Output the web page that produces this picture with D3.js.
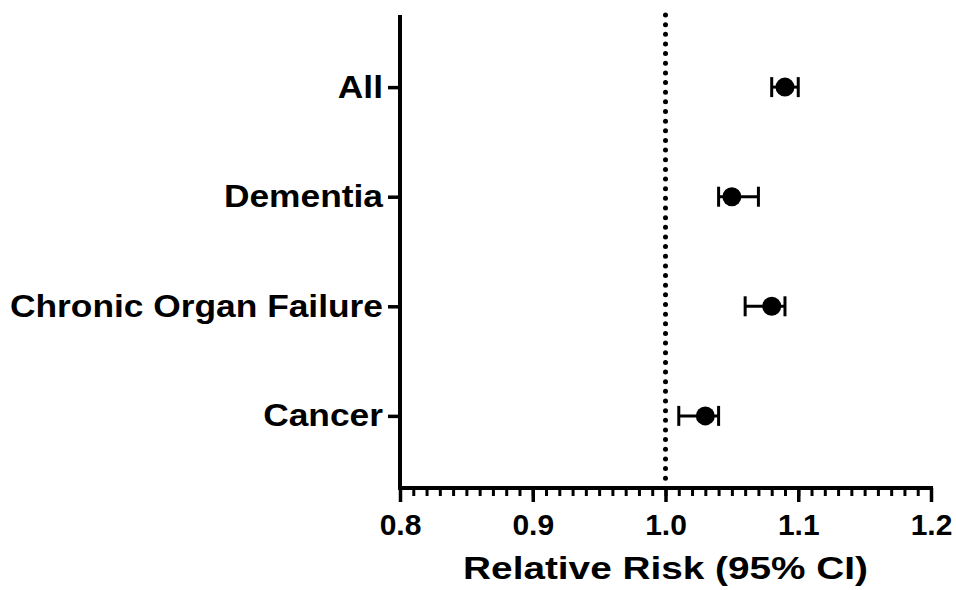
<!DOCTYPE html>
<html>
<head>
<meta charset="utf-8">
<script src="https://cdn.jsdelivr.net/npm/d3@7"></script>
<style>
  body { margin: 0; background: #fff; }
  text { font-family: "Liberation Sans", Arial, sans-serif; font-weight: bold; fill: #000; }
</style>
</head>
<body>
<div id="chart"></div>
<script>
const categories = ['All', 'Dementia', 'Chronic Organ Failure', 'Cancer'];
const estimates = [1.09, 1.05, 1.08, 1.03];
const lower = [1.08, 1.04, 1.06, 1.01];
const upper = [1.10, 1.07, 1.09, 1.04];
const majorTicks = [0.8, 0.9, 1.0, 1.1, 1.2];
const refValue = 1.0;

const width = 956, height = 590;
const plotLeft = 400, plotRight = 931, plotTop = 15, plotBottom = 488;
// the original labels are drawn a little wider than Liberation Sans
const labelStretch = 1.14, titleStretch = 1.25;

const svg = d3.select('#chart')
  .append('svg')
  .attr('width', width)
  .attr('height', height);

const x = d3.scaleLinear()
  .domain([0.8, 1.2])
  .range([plotLeft, plotRight]);

const y = d3.scalePoint()
  .domain(categories)
  .range([plotTop, plotBottom])
  .padding(0.658);

const rows = categories.map((c, i) => ({
  name: c, est: estimates[i], lo: lower[i], hi: upper[i]
}));

// reference line at 1.0
svg.append('line')
  .attr('x1', x(refValue)).attr('x2', x(refValue))
  .attr('y1', plotTop).attr('y2', plotBottom - 6)
  .attr('stroke', '#000')
  .attr('stroke-width', 5)
  .attr('stroke-linecap', 'round')
  .attr('stroke-dasharray', '0 9.65');

// x axis: minor ticks then major ticks
const xMinor = d3.axisBottom(x)
  .tickValues(d3.range(80, 121).map(d => d / 100))
  .tickSize(8)
  .tickFormat('');

svg.append('g')
  .attr('transform', `translate(0,${plotBottom})`)
  .call(xMinor)
  .call(g => g.select('.domain').remove())
  .call(g => g.selectAll('line').attr('stroke', '#000').attr('stroke-width', 3));

const xAxis = d3.axisBottom(x)
  .tickValues(majorTicks)
  .tickSize(14)
  .tickSizeOuter(0)
  .tickPadding(10)
  .tickFormat(d3.format('.1f'));

svg.append('g')
  .attr('transform', `translate(0,${plotBottom})`)
  .call(xAxis)
  .call(g => g.select('.domain').attr('stroke', '#000').attr('stroke-width', 4)
    .attr('d', `M${plotLeft - 2},0H${plotRight + 2}`))
  .call(g => g.selectAll('line').attr('stroke', '#000').attr('stroke-width', 3.5))
  .call(g => g.selectAll('text').style('font-size', '30px').attr('dy', '0.75em'));

// y axis
const yAxis = d3.axisLeft(y)
  .tickSize(12)
  .tickSizeOuter(0)
  .tickPadding(4);

svg.append('g')
  .attr('transform', `translate(${plotLeft},0)`)
  .call(yAxis)
  .call(g => g.select('.domain').attr('stroke', '#000').attr('stroke-width', 4)
    .attr('d', `M0,${plotTop}V${plotBottom + 2}`))
  .call(g => g.selectAll('line').attr('stroke', '#000').attr('stroke-width', 3.5))
  .call(g => g.selectAll('text')
    .style('font-size', '31px')
    .attr('x', 0)
    .attr('transform', `translate(-17,0) scale(${labelStretch},1)`));

// axis title
svg.append('text')
  .attr('transform', `translate(${x(1.0)},579) scale(${titleStretch},1)`)
  .attr('text-anchor', 'middle')
  .style('font-size', '31px')
  .text('Relative Risk (95% CI)');

// error bars and points
const node = svg.selectAll('.row')
  .data(rows)
  .enter().append('g')
  .attr('class', 'row');

node.append('line')
  .attr('x1', d => x(d.lo)).attr('x2', d => x(d.hi))
  .attr('y1', d => y(d.name)).attr('y2', d => y(d.name))
  .attr('stroke', '#000').attr('stroke-width', 3);

node.selectAll('.cap')
  .data(d => [[d.lo, d.name], [d.hi, d.name]])
  .enter().append('line')
  .attr('class', 'cap')
  .attr('x1', d => x(d[0])).attr('x2', d => x(d[0]))
  .attr('y1', d => y(d[1]) - 10).attr('y2', d => y(d[1]) + 10)
  .attr('stroke', '#000').attr('stroke-width', 3);

node.append('circle')
  .attr('cx', d => x(d.est))
  .attr('cy', d => y(d.name))
  .attr('r', 9.5)
  .attr('fill', '#000');
</script>
</body>
</html>
